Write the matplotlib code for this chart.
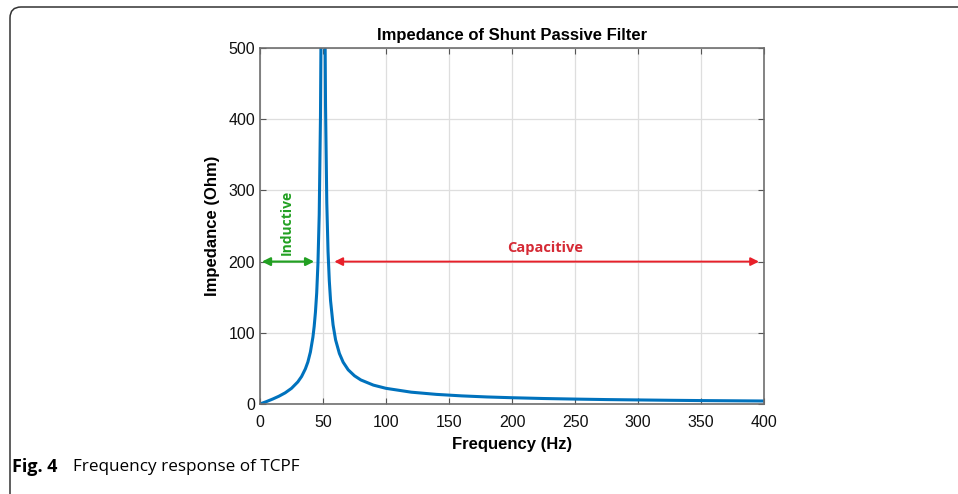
import matplotlib
matplotlib.use('Agg')
import matplotlib.pyplot as plt
from matplotlib.patches import FancyBboxPatch
from matplotlib.transforms import IdentityTransform

# Values (Hz, Ohm)
freq = [0, 5, 10, 15, 20, 25, 30, 33, 36, 38, 40, 42, 43, 44, 45, 46, 47, 48, 48.5,
        50, 51.5, 52, 53, 54, 55, 56, 58, 60, 63, 66, 70, 75, 80, 90, 100,
        120, 140, 160, 180, 200, 225, 250, 275, 300, 325, 350, 375, 400]
impedance = [0, 3.3, 6.9, 10.9, 15.7, 22, 31, 38.6, 49.3, 59, 73, 94, 109, 129, 156, 198, 266, 404, 541,
             2000, 558, 420, 283, 214, 173, 145, 111, 90, 71, 58.7, 48, 39.6, 33.8, 26.5, 22,
             16.6, 13.5, 11.4, 9.9, 8.8, 7.7, 6.9, 6.2, 5.7, 5.2, 4.8, 4.5, 4.2]

xticks = [0, 50, 100, 150, 200, 250, 300, 350, 400]
yticks = [0, 100, 200, 300, 400, 500]

plt.rcParams['font.family'] = ['Liberation Sans', 'DejaVu Sans']
side_font = ['Open Sans', 'DejaVu Sans']

fig = plt.figure(figsize=(9.58, 4.94), dpi=100)
ax = fig.add_axes([0.2714, 0.1822, 0.5261, 0.7206])

ax.plot(freq, impedance, color='#0072BD', linewidth=2.2)

ax.set_xlim(0, 400)
ax.set_ylim(0, 500)
ax.set_xticks(xticks)
ax.set_yticks(yticks)
ax.tick_params(direction='in', top=True, right=True, labelsize=11.5, length=4,
               color='#555555', labelcolor='#111111')
ax.tick_params(axis='x', pad=8)
for sp in ax.spines.values():
    sp.set_color('#6e6e6e')
    sp.set_linewidth(1.2)
ax.grid(True, color='#dedede', linewidth=0.9)
ax.set_axisbelow(True)

ax.set_title('Impedance of Shunt Passive Filter', fontsize=12, fontweight='bold', pad=6)
ax.set_xlabel('Frequency (Hz)', fontsize=12, fontweight='bold', labelpad=5)
ax.set_ylabel('Impedance (Ohm)', fontsize=12, fontweight='bold', labelpad=6)

# region annotations
green = '#22a022'
red = '#e8202a'
ax.annotate('', xy=(1.5, 200), xytext=(43, 200),
            arrowprops=dict(arrowstyle='<|-|>', color=green, lw=1.6, mutation_scale=12,
                            shrinkA=0, shrinkB=0))
ax.text(21, 255, 'Inductive', rotation=90, color=green, fontsize=10, fontweight='bold',
        family=side_font, ha='center', va='center')
ax.annotate('', xy=(59, 200), xytext=(396, 200),
            arrowprops=dict(arrowstyle='<|-|>', color=red, lw=1.4, mutation_scale=12,
                            shrinkA=0, shrinkB=0))
ax.text(226, 219, 'Capacitive', color='#d52a35', fontsize=10.5, fontweight='bold',
        family=side_font, ha='center', va='center')

# caption and frame
fig.text(12 / 958, 1 - 467 / 494, 'Fig. 4', fontsize=13, fontweight='bold',
         family=side_font, va='center', ha='left')
fig.text(73 / 958, 1 - 467 / 494, 'Frequency response of TCPF', fontsize=12.3,
         family=side_font, va='center', ha='left')

frame = FancyBboxPatch((10, -30), 1000, 30 + 487, boxstyle='round,pad=0,rounding_size=11',
                       transform=IdentityTransform(), facecolor='none',
                       edgecolor='#333333', linewidth=1.1)
fig.add_artist(frame)

fig.savefig('out.png', dpi=100)
